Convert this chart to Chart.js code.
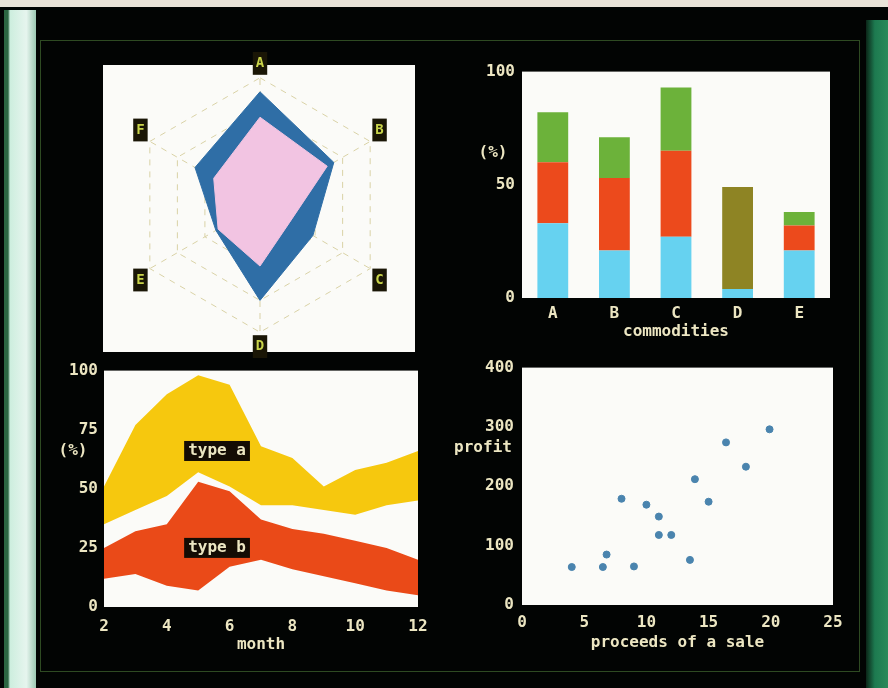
<!DOCTYPE html>
<html>
<head>
<meta charset="UTF-8">
<title>Four charts</title>
<script src="https://cdn.jsdelivr.net/npm/chart.js"></script>
<style>
  body { margin: 0; background: #020403; width: 888px; height: 688px; overflow: hidden; position: relative; }
  .abs { position: absolute; }
  #topStrip { left: 0; top: 0; width: 888px; height: 7px; background: #e9e3d8; }
  #leftBezel { left: 4px; top: 10px; width: 32px; height: 678px;
    background: linear-gradient(90deg, #2c6642 0, #2c6642 4px, #cdeede 6px, #e6f5ee 70%, #9cc8b2 100%); }
  #rightBezel { left: 866px; top: 20px; width: 22px; height: 668px;
    background: linear-gradient(90deg, #0b2618, #1d7a50 40%, #2b8a5a); }
  #screen { left: 40px; top: 40px; width: 818px; height: 630px; border: 1px solid #2e4a22; }
  #radarBg { left: 103px; top: 65px; width: 312px; height: 287px; background: #fbfbf8; }
  canvas { position: absolute; }
</style>
</head>
<body>
<div id="topStrip" class="abs"></div>
<div id="leftBezel" class="abs"></div>
<div id="rightBezel" class="abs"></div>
<div id="screen" class="abs"></div>
<div id="radarBg" class="abs"></div>
<canvas id="radar" width="320" height="310" style="left:100px;top:50px"></canvas>
<canvas id="bars" width="410" height="290" style="left:440px;top:55px"></canvas>
<canvas id="area" width="400" height="303" style="left:40px;top:355px"></canvas>
<canvas id="scatter" width="415" height="306" style="left:440px;top:350px"></canvas>
<script>
// radar (top left)
const radarLabels = ['A', 'B', 'C', 'D', 'E', 'F'];
const radarOuter = [89, 67, 48, 75, 40, 59];
const radarInner = [69, 61, 27, 48, 38, 42];

// stacked bars (top right)
const commodities = ['A', 'B', 'C', 'D', 'E'];
const barCyan  = [33, 21, 27, 4, 21];
const barRed   = [27, 32, 38, 0, 11];
const barGreen = [22, 18, 28, 0, 6];
const barOlive = [0, 0, 0, 45, 0];

// bands (bottom left)
const months = [2, 3, 4, 5, 6, 7, 8, 9, 10, 11, 12];
const aHigh = [51, 77, 90, 98, 94, 68, 63, 51, 58, 61, 66];
const aLow  = [35, 41, 47, 57, 51, 43, 43, 41, 39, 43, 45];
const bHigh = [25, 32, 35, 53, 49, 37, 33, 31, 28, 25, 20];
const bLow  = [12, 14, 9, 7, 17, 20, 16, 13, 10, 7, 5];

// scatter (bottom right)
const proceeds = [4.0, 6.5, 6.8, 9.0, 8.0, 10.0, 11.0, 11.0, 12.0, 13.5, 13.9, 15.0, 16.4, 18.0, 19.9];
const profit   = [64, 64, 85, 65, 179, 169, 149, 118, 118, 76, 212, 174, 274, 233, 296];

const FONT = "'DejaVu Sans Mono', monospace";
const INK = '#ece6c2';
Chart.defaults.font.family = FONT;
Chart.defaults.font.size = 16;
Chart.defaults.font.weight = 'bold';
Chart.defaults.color = INK;
Chart.defaults.animation = false;
Chart.defaults.plugins.legend.display = false;
Chart.defaults.plugins.tooltip.enabled = false;

// white plot area
const whiteArea = {
  id: 'whiteArea',
  beforeDraw(chart) {
    const { ctx, chartArea: a } = chart;
    ctx.save();
    ctx.fillStyle = '#fbfbf8';
    ctx.fillRect(a.left, a.top, a.width, a.height);
    ctx.restore();
  }
};

// horizontal labels (axis titles, "type a" boxes)
const tags = {
  id: 'tags',
  afterDraw(chart, args, opts) {
    const { ctx, chartArea, scales } = chart;
    (opts.items || []).forEach(it => {
      const x = it.xv !== undefined ? scales.x.getPixelForValue(it.xv) : chartArea.left + it.dx;
      const y = scales.y.getPixelForValue(it.yv);
      ctx.save();
      ctx.font = 'bold 16px ' + FONT;
      ctx.textAlign = 'center';
      ctx.textBaseline = 'middle';
      if (it.box) {
        const w = ctx.measureText(it.text).width + 8;
        ctx.fillStyle = '#140c04';
        ctx.fillRect(x - w / 2, y - 10, w, 20);
      }
      ctx.fillStyle = INK;
      ctx.fillText(it.text, x, y);
      ctx.restore();
    });
  }
};

const noGrid = { display: false, drawTicks: false };
const noBorder = { display: false };

new Chart(document.getElementById('radar'), {
  type: 'radar',
  data: {
    labels: radarLabels,
    datasets: [
      { data: radarInner, backgroundColor: '#f2c4e2', borderColor: '#f2c4e2', fill: true, pointRadius: 0, borderWidth: 1 },
      { data: radarOuter, backgroundColor: '#2f6ea6', borderColor: '#2f6ea6', fill: true, pointRadius: 0, borderWidth: 1 }
    ]
  },
  options: {
    responsive: false,
    layout: { padding: { top: 6, bottom: 4, left: 0, right: 0 } },
    scales: {
      r: {
        min: 0, max: 100,
        ticks: { display: false, stepSize: 25 },
        grid: { color: '#d9d2a6', borderDash: [6, 6] },
        border: { dash: [6, 6] },
        angleLines: { color: '#d9d2a6', borderDash: [6, 6] },
        pointLabels: {
          color: '#c9d44a',
          backdropColor: '#1a1606',
          backdropPadding: 3,
          padding: 6,
          font: { size: 14, weight: 'bold' }
        }
      }
    }
  }
});

new Chart(document.getElementById('bars'), {
  type: 'bar',
  data: {
    labels: commodities,
    datasets: [
      { data: barCyan,  backgroundColor: '#66d2f0' },
      { data: barRed,   backgroundColor: '#ec4a1c' },
      { data: barGreen, backgroundColor: '#6cb23a' },
      { data: barOlive, backgroundColor: '#8e8424' }
    ]
  },
  options: {
    responsive: false,
    layout: { padding: { top: 10, right: 20, left: 0, bottom: 0 } },
    datasets: { bar: { barPercentage: 0.5, categoryPercentage: 1.0 } },
    scales: {
      x: {
        stacked: true,
        grid: noGrid, border: noBorder,
        ticks: { padding: 6 },
        title: { display: true, text: 'commodities', padding: { top: 2, bottom: 4 } },
        afterFit: s => { s.height = 47; }
      },
      y: {
        stacked: true, min: 0, max: 100,
        grid: noGrid, border: noBorder,
        ticks: { stepSize: 50, padding: 7 },
        afterFit: s => { s.width = 82; }
      }
    },
    plugins: { tags: { items: [{ text: '(%)', dx: -29, yv: 64 }] } }
  },
  plugins: [whiteArea, tags]
});

const pts = arr => months.map((m, i) => ({ x: m, y: arr[i] }));
new Chart(document.getElementById('area'), {
  type: 'line',
  data: {
    datasets: [
      { data: pts(bLow),  borderWidth: 0, pointRadius: 0, fill: false },
      { data: pts(bHigh), borderWidth: 0, pointRadius: 0, fill: '-1', backgroundColor: '#ea4a18' },
      { data: pts(aLow),  borderWidth: 0, pointRadius: 0, fill: false },
      { data: pts(aHigh), borderWidth: 0, pointRadius: 0, fill: '-1', backgroundColor: '#f6c80e' }
    ]
  },
  options: {
    responsive: false,
    layout: { padding: { top: 9, right: 22, left: 0, bottom: 0 } },
    scales: {
      x: {
        type: 'linear', min: 2, max: 12,
        grid: noGrid, border: noBorder,
        ticks: { stepSize: 2, padding: 10 },
        title: { display: true, text: 'month', padding: { top: 2, bottom: 4 } },
        afterFit: s => { s.height = 51; }
      },
      y: {
        min: 0, max: 100,
        grid: noGrid, border: noBorder,
        ticks: { stepSize: 25, padding: 6 },
        afterFit: s => { s.width = 64; }
      }
    },
    plugins: { tags: { items: [
      { text: '(%)', dx: -31, yv: 66 },
      { text: 'type a', xv: 5.6, yv: 66, box: true },
      { text: 'type b', xv: 5.6, yv: 25, box: true }
    ] } }
  },
  plugins: [whiteArea, tags]
});

new Chart(document.getElementById('scatter'), {
  type: 'scatter',
  data: {
    datasets: [{
      data: proceeds.map((p, i) => ({ x: p, y: profit[i] })),
      backgroundColor: '#4a84ae', borderColor: '#4a84ae', pointRadius: 3.5
    }]
  },
  options: {
    responsive: false,
    layout: { padding: { top: 11, right: 22, left: 0, bottom: 0 } },
    scales: {
      x: {
        type: 'linear', min: 0, max: 25,
        grid: noGrid, border: noBorder,
        ticks: { stepSize: 5, padding: 8 },
        title: { display: true, text: 'proceeds of a sale', padding: { top: 2, bottom: 4 } },
        afterFit: s => { s.height = 51; }
      },
      y: {
        min: 0, max: 400,
        grid: noGrid, border: noBorder,
        ticks: { stepSize: 100, padding: 8 },
        afterFit: s => { s.width = 82; }
      }
    },
    plugins: { tags: { items: [{ text: 'profit', dx: -39, yv: 265 }] } }
  },
  plugins: [whiteArea, tags]
});
</script>
</body>
</html>
